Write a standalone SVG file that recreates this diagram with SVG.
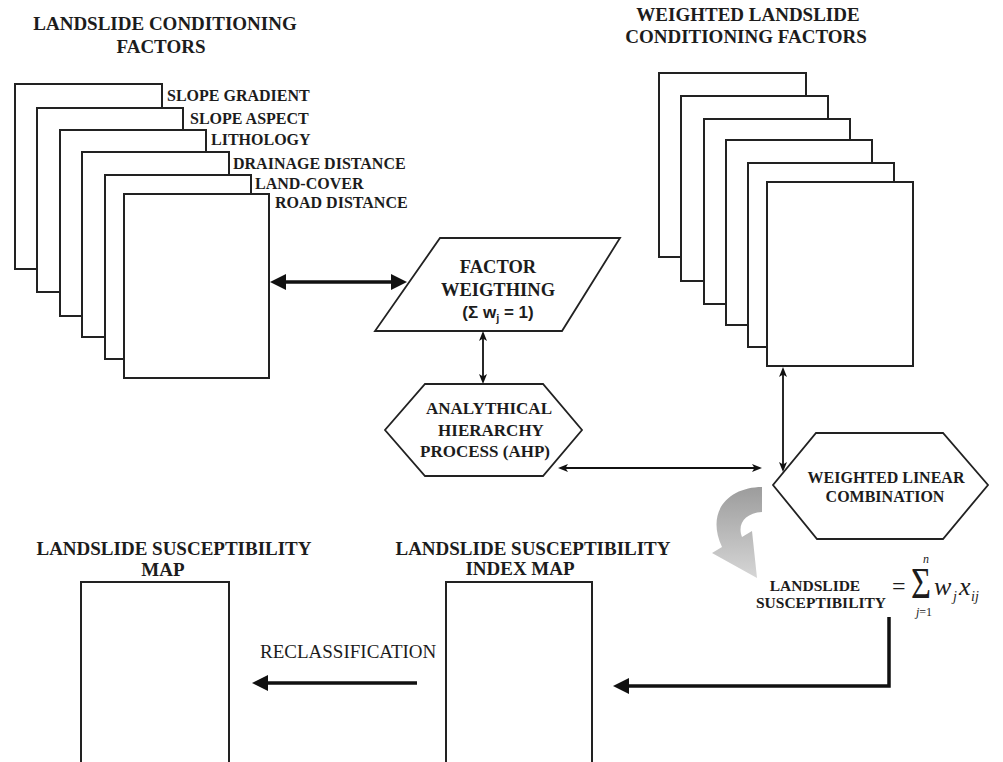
<svg xmlns="http://www.w3.org/2000/svg" width="1003" height="762" viewBox="0 0 1003 762">
<style>
.sheet{fill:#fff;stroke:#222;stroke-width:2}
.shape{fill:#fff;stroke:#222;stroke-width:1.8}
.hd{font-family:"Liberation Serif",serif;font-weight:bold;font-size:19px;fill:#1c1c1c;text-anchor:middle}
.lb{font-family:"Liberation Serif",serif;font-weight:bold;font-size:16px;fill:#1c1c1c}
.nd{font-family:"Liberation Serif",serif;font-weight:bold;fill:#1c1c1c;text-anchor:middle}
.rg{font-family:"Liberation Serif",serif;font-size:19px;fill:#1c1c1c}
.it{font-family:"Liberation Serif",serif;font-style:italic;fill:#1c1c1c}
.thick{fill:none;stroke:#111;stroke-width:3.5}
.thin{fill:none;stroke:#111;stroke-width:1.8}
</style>
<defs>
<marker id="big" markerUnits="userSpaceOnUse" markerWidth="16" markerHeight="16" refX="10" refY="8" orient="auto-start-reverse"><path d="M0,0 L16,8 L0,16 Z" fill="#111"/></marker>
<marker id="small" markerUnits="userSpaceOnUse" markerWidth="10" markerHeight="8" refX="7" refY="4" orient="auto-start-reverse"><path d="M0,0 L10,4 L0,8 L2.5,4 Z" fill="#111"/></marker>
<linearGradient id="gray" x1="0" y1="0" x2="0" y2="1"><stop offset="0" stop-color="#9c9c9c"/><stop offset="1" stop-color="#d6d6d6"/></linearGradient>
</defs>

<g id="heading-conditioning">
<text class="hd" x="165" y="30">LANDSLIDE CONDITIONING</text>
<text class="hd" x="161" y="53">FACTORS</text>
</g>
<g id="heading-weighted">
<text class="hd" x="748" y="21">WEIGHTED LANDSLIDE</text>
<text class="hd" x="746" y="43">CONDITIONING FACTORS</text>
</g>

<g id="factor-stack">
<rect class="sheet" x="15" y="84" width="147" height="185"/>
<rect class="sheet" x="37" y="108" width="146" height="184"/>
<rect class="sheet" x="60" y="130" width="146" height="186"/>
<rect class="sheet" x="82" y="152" width="147" height="185"/>
<rect class="sheet" x="105" y="175" width="146" height="184"/>
<rect class="sheet" x="124" y="194" width="145" height="184"/>
<text class="lb" x="167" y="101">SLOPE GRADIENT</text>
<text class="lb" x="190" y="124">SLOPE ASPECT</text>
<text class="lb" x="211" y="145">LITHOLOGY</text>
<text class="lb" x="233" y="169">DRAINAGE DISTANCE</text>
<text class="lb" x="255" y="189">LAND-COVER</text>
<text class="lb" x="275" y="208">ROAD DISTANCE</text>
</g>

<g id="weighted-stack">
<rect class="sheet" x="659" y="73" width="147" height="184"/>
<rect class="sheet" x="681" y="96" width="147" height="185"/>
<rect class="sheet" x="704" y="119" width="146" height="185"/>
<rect class="sheet" x="726" y="140" width="146" height="185"/>
<rect class="sheet" x="748" y="163" width="146" height="184"/>
<rect class="sheet" x="767" y="182" width="146" height="184"/>
</g>

<g id="factor-weighting">
<polygon class="shape" points="440,238 620,238 562,331 375,331"/>
<text class="nd" x="498" y="273" font-size="18.5">FACTOR</text>
<text class="nd" x="498" y="296" font-size="18.5">WEIGTHING</text>
<text x="498" y="318" text-anchor="middle" font-family="Liberation Sans, Arial, sans-serif" font-weight="bold" font-size="17" fill="#1c1c1c">(Σ w<tspan font-size="11" dy="4">j</tspan><tspan dy="-4"> = 1)</tspan></text>
</g>

<g id="ahp">
<polygon class="shape" points="425,384 543,384 582,430 543,476 425,476 385,430"/>
<text class="nd" x="489" y="414" font-size="17">ANALYTHICAL</text>
<text class="nd" x="491" y="436" font-size="17">HIERARCHY</text>
<text class="nd" x="485" y="457" font-size="17">PROCESS (AHP)</text>
</g>

<g id="wlc">
<polygon class="shape" points="816,433 943,433 988,485 943,539 817,539 773,485"/>
<text class="nd" x="886" y="483" font-size="16">WEIGHTED LINEAR</text>
<text class="nd" x="885" y="502" font-size="16">COMBINATION</text>
</g>

<g id="formula">
<text class="nd" x="815" y="591" font-size="15.5">LANDSLIDE</text>
<text class="nd" x="821" y="608" font-size="15.5">SUSCEPTIBILITY</text>
<text font-family="Liberation Serif, serif" font-size="24" fill="#1c1c1c" x="892" y="594">=</text>
<text font-family="Liberation Serif, serif" font-size="44" fill="#1c1c1c" transform="translate(911,598) scale(0.78,1)">Σ</text>
<text class="it" font-size="12" x="923" y="563">n</text>
<text class="it" font-size="12" x="916" y="616">j<tspan font-style="normal">=1</tspan></text>
<text class="it" font-size="26" x="934" y="595">w</text>
<text class="it" font-size="14" x="953" y="601">j</text>
<text class="it" font-size="26" x="959" y="595">x</text>
<text class="it" font-size="14" x="971" y="601">ij</text>
</g>

<g id="susceptibility-map">
<text class="hd" x="174" y="555">LANDSLIDE SUSCEPTIBILITY</text>
<text class="hd" x="163" y="576">MAP</text>
<rect class="sheet" x="81" y="582" width="148" height="200"/>
</g>

<g id="index-map">
<text class="hd" x="533" y="555">LANDSLIDE SUSCEPTIBILITY</text>
<text class="hd" x="520" y="575">INDEX MAP</text>
<rect class="sheet" x="446" y="582" width="146" height="200"/>
</g>

<g id="connectors">
<line class="thick" x1="276" y1="282" x2="401" y2="282" marker-start="url(#big)" marker-end="url(#big)"/>
<line class="thin" x1="483" y1="334" x2="483" y2="381" marker-start="url(#small)" marker-end="url(#small)"/>
<line class="thin" x1="561" y1="468" x2="759" y2="468" marker-start="url(#small)" marker-end="url(#small)"/>
<line class="thin" x1="783" y1="370" x2="783" y2="469" marker-start="url(#small)" marker-end="url(#small)"/>
<path d="M762,487 C730,487 705,510 722,547 L712,553 L757,578 L752,531 L742,537 C737,524 745,513 762,512 Z" fill="url(#gray)"/>
<path class="thick" d="M889,617 V686 H619" marker-end="url(#big)"/>
<line class="thick" x1="417" y1="683" x2="258" y2="683" marker-end="url(#big)"/>
<text class="rg" x="260" y="658">RECLASSIFICATION</text>
</g>
</svg>
